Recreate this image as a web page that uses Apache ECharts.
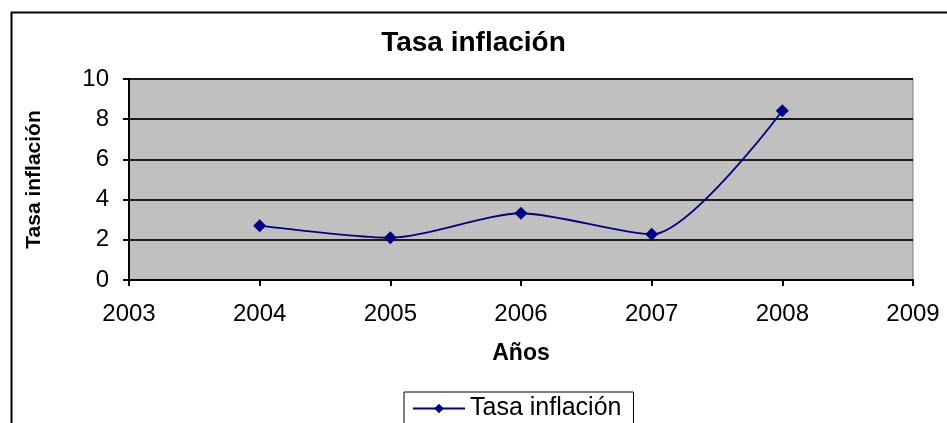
<!DOCTYPE html>
<html>
<head>
<meta charset="utf-8">
<script src="https://cdn.jsdelivr.net/npm/echarts@6/dist/echarts.min.js"></script>
<style>
  html, body { margin: 0; padding: 0; background: #fff; }
  #chart { width: 947px; height: 423px; }
</style>
</head>
<body>
<div id="chart"></div>
<script>
// values
const years = [2004, 2005, 2006, 2007, 2008];
const inflation = [2.7, 2.1, 3.32, 2.27, 8.42];
const seriesName = 'Tasa inflación';

const font = 'Arial, "Liberation Sans", sans-serif';

const chart = echarts.init(document.getElementById('chart'));

const option = {
    backgroundColor: '#fff',
    animation: false,
    title: {
        text: 'Tasa inflación',
        left: 'center',
        top: 29,
        padding: 0,
        textStyle: {fontFamily: font, fontWeight: 'bold', fontSize: 28, color: '#000'}
    },
    legend: {
        data: [seriesName],
        left: 404,
        top: 392,
        padding: [4, 12, 12, 8],
        borderColor: '#000',
        borderWidth: 1,
        itemWidth: 52,
        itemHeight: 12,
        itemGap: 6,
        textStyle: {fontFamily: font, fontSize: 25, color: '#000'}
    },
    grid: {
        left: 129,
        top: 79,
        right: 34,
        bottom: 143,
        show: true,
        backgroundColor: '#C0C0C0',
        borderColor: '#808080',
        borderWidth: 1
    },
    xAxis: {
        type: 'value',
        min: 2003,
        max: 2009,
        interval: 1,
        name: 'Años',
        nameLocation: 'middle',
        nameGap: 62,
        nameTextStyle: {fontFamily: font, fontWeight: 'bold', fontSize: 23, color: '#000'},
        axisLine: {show: true, lineStyle: {color: '#000', width: 2}},
        axisTick: {show: true, length: 6, lineStyle: {color: '#000', width: 2}},
        axisLabel: {
            margin: 22,
            fontFamily: font,
            fontSize: 24,
            color: '#000',
            formatter: v => String(v)
        },
        splitLine: {show: false}
    },
    yAxis: {
        type: 'value',
        min: 0,
        max: 10,
        interval: 2,
        name: 'Tasa inflación',
        nameLocation: 'middle',
        nameRotate: 90,
        nameGap: 84,
        nameTextStyle: {fontFamily: font, fontWeight: 'bold', fontSize: 21, color: '#000'},
        axisLine: {show: true, lineStyle: {color: '#000', width: 2}},
        axisTick: {show: true, length: 6, lineStyle: {color: '#000', width: 2}},
        axisLabel: {margin: 20, fontFamily: font, fontSize: 24, color: '#000'},
        splitLine: {show: true, lineStyle: {color: '#1a1a1a', width: 2}}
    },
    graphic: [{
        type: 'rect',
        left: 9,
        top: 10,
        shape: {width: 1000, height: 500},
        style: {fill: 'none', stroke: '#000', lineWidth: 2},
        silent: true
    }],
    series: [{
        name: seriesName,
        type: 'line',
        data: years.map((y, i) => [y, inflation[i]]),
        smooth: 0.25,
        symbol: 'diamond',
        symbolSize: 13,
        color: '#000080',
        lineStyle: {color: '#000080', width: 1.8},
        itemStyle: {color: '#000080'}
    }]
};

chart.setOption(option);
</script>
</body>
</html>
